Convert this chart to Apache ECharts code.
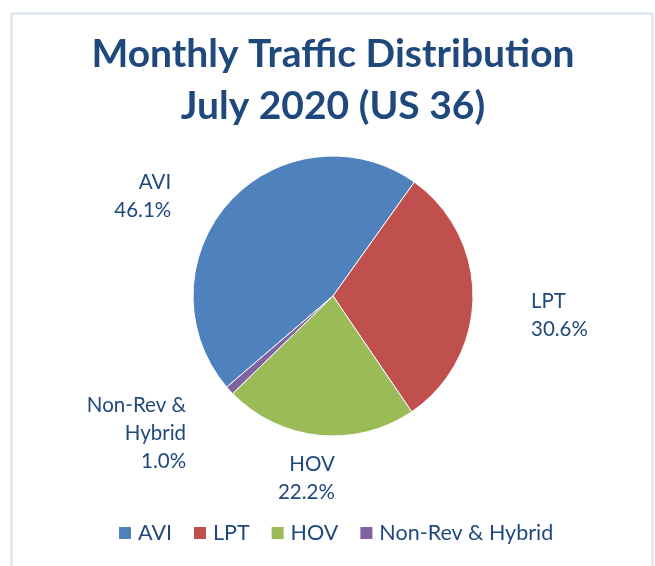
<!DOCTYPE html>
<html>
<head>
<meta charset="utf-8">
<script src="https://cdn.jsdelivr.net/npm/echarts@6/dist/echarts.min.js"></script>
<style>
  html, body { margin: 0; padding: 0; background: #fff; }
  #chart { width: 655px; height: 566px; }
</style>
</head>
<body>
<div id="chart"></div>
<script>
const categories = ['AVI', 'LPT', 'HOV', 'Non-Rev & Hybrid'];
const labelNames = ['AVI', 'LPT', 'HOV', 'Non-Rev &\nHybrid'];
const shares = [46.1, 30.6, 22.2, 1.0];
const colors = ['#4F81BD', '#C0504D', '#9BBB59', '#8064A2'];

const textColor = '#1F497D';
const font = 'Lato, "Open Sans", sans-serif';

// small nudges so the data labels sit where the original put them
const labelNudge = [[-14, 22], [3, 17], [35, 3], [1, 16]];

const chart = echarts.init(document.getElementById('chart'));

const option = {
  backgroundColor: '#fff',
  color: colors,
  title: {
    text: 'Monthly Traffic Distribution\nJuly 2020 (US 36)',
    // the original centres on the framed area, a little right of the page centre
    left: 328,
    textAlign: 'center',
    top: 23,
    textStyle: {
      color: '#1F497D',
      fontFamily: font,
      fontWeight: 'bold',
      fontSize: 39,
      lineHeight: 52
    }
  },
  graphic: [{
    type: 'rect',
    shape: { x: 11.5, y: 13.5, width: 641, height: 580 },
    style: { fill: 'none', stroke: '#D6E0EE', lineWidth: 2 },
    silent: true
  }],
  legend: {
    bottom: 17,
    left: 112,
    itemWidth: 14,
    itemHeight: 14,
    itemGap: 20,
    icon: 'rect',
    textStyle: { color: textColor, fontFamily: font, fontSize: 21.5, padding: [0, 0, 0, 1] },
    data: categories
  },
  series: [{
    type: 'pie',
    center: [333, 296],
    radius: 140,
    startAngle: 220.6,
    clockwise: true,
    avoidLabelOverlap: false,
    itemStyle: { borderColor: '#fff', borderWidth: 1 },
    label: {
      show: true,
      position: 'outside',
      color: textColor,
      fontFamily: font,
      fontSize: 20.5,
      lineHeight: 28,
      align: 'center',
      formatter: function (p) {
        return labelNames[p.dataIndex] + '\n' + p.value.toFixed(1) + '%';
      }
    },
    labelLine: { show: false, length: 40, length2: 10 },
    labelLayout: function (params) {
      const n = labelNudge[params.dataIndex];
      return { dx: n[0], dy: n[1] };
    },
    emphasis: { disabled: true },
    data: categories.map(function (c, i) {
      return { name: c, value: shares[i] };
    })
  }]
};

chart.setOption(option);
</script>
</body>
</html>
